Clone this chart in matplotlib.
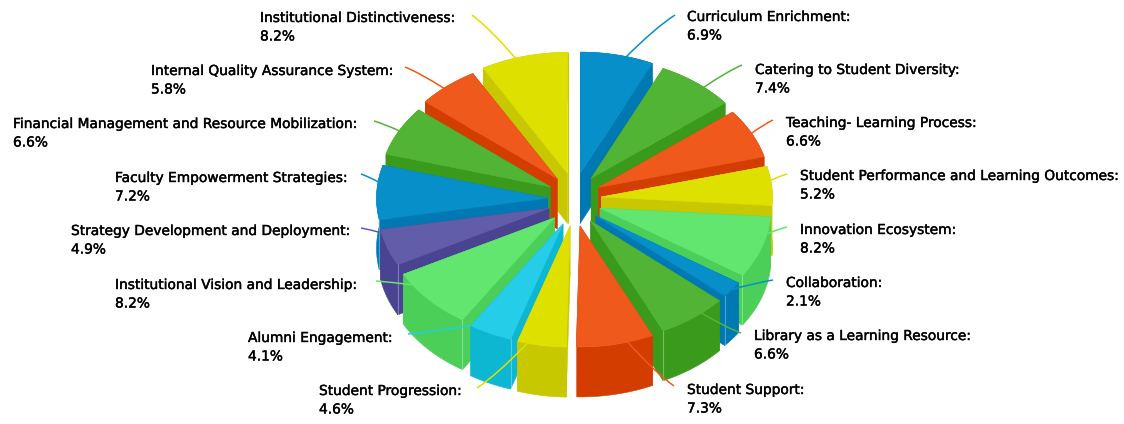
import numpy as np
import matplotlib
matplotlib.use('Agg')
import matplotlib.pyplot as plt
import matplotlib.patheffects as pe
from matplotlib.path import Path
from matplotlib.patches import PathPatch

# exploded 3d pie, values in percent, clockwise from 12 o'clock
labels = ['Curriculum Enrichment', 'Catering to Student Diversity', 'Teaching- Learning Process',
          'Student Performance and Learning Outcomes', 'Innovation Ecosystem', 'Collaboration',
          'Library as a Learning Resource', 'Student Support', 'Student Progression',
          'Alumni Engagement', 'Institutional Vision and Leadership', 'Strategy Development and Deployment',
          'Faculty Empowerment Strategies', 'Financial Management and Resource Mobilization',
          'Internal Quality Assurance System', 'Institutional Distinctiveness']
values = [6.9, 7.4, 6.6, 5.2, 8.2, 2.1, 6.6, 7.3, 4.6, 4.1, 8.2, 4.9, 7.2, 6.6, 5.8, 8.2]

BLUE = ('#068fc9', '#0079b3')
GREEN = ('#52b435', '#3a9a1c')
ORANGE = ('#ef5a1c', '#d33d00')
YELLOW = ('#dee000', '#c7c800')
LIGHT = ('#62e66f', '#4bcf58')
PURPLE = ('#625da8', '#4a4391')
CYAN = ('#25cde8', '#0db6d1')
colors = [BLUE, GREEN, ORANGE, YELLOW, LIGHT, BLUE, GREEN, ORANGE,
          YELLOW, CYAN, LIGHT, PURPLE, BLUE, GREEN, ORANGE, YELLOW]

# layout, all in pixels of the 1124x424 picture
cx, cy = 574.5, 199.5
rx, ry = 171, 121
explode = 27
depth = 50
label_x = [687, 755, 786, 800, 800, 786, 754, 687, 319, 248, 115, 71, 115, 13, 151, 260]
label_y = [17, 70, 123, 176, 230, 283, 336, 390, 391, 338, 285, 231, 178, 124, 71, 18]
leader_end = [(675, 15), (742, 65), (773, 120), (787, 174), (787, 227), (773, 280), (741, 333), (674, 386),
              (477, 388), (408, 334), (376, 281), (361, 228), (361, 174), (374, 121), (405, 67), (472, 15)]
# the connectors do not leave the rim exactly at the mid angle
leader_shift = [3.2, 3, 0, -2.6, -6.7, 0, -3.5, -4.3, 4.9, 7.6, 9, 7.3, 5, 0, -1.5, -3]

fig = plt.figure(figsize=(11.24, 4.24), dpi=100)
ax = fig.add_axes([0, 0, 1, 1])
ax.set_xlim(0, 1124)
ax.set_ylim(424, 0)
ax.axis('off')

edges = np.cumsum([0] + values) / sum(values) * 2 * np.pi
mids = (edges[:-1] + edges[1:]) / 2


def apex(i):
    return cx + explode * np.sin(mids[i]), cy - explode * np.cos(mids[i])


def rim(i, angle):
    x0, y0 = apex(i)
    return x0 + rx * np.sin(angle), y0 - ry * np.cos(angle)


def draw_slice(i):
    top, side = colors[i]
    x0, y0 = apex(i)
    t = np.linspace(edges[i], edges[i + 1], 60)
    xs, ys = rim(i, t)
    kw = dict(linewidth=0.4, joinstyle='miter')
    # two cut faces, then the outer wall, then the lid
    for k in (0, -1):
        ax.fill([x0, xs[k], xs[k], x0], [y0, ys[k], ys[k] + depth, y0 + depth], color=side, **kw)
    ax.fill(np.r_[xs, xs[::-1]], np.r_[ys, ys[::-1] + depth], color=side, **kw)
    # light seam on the front corner
    k = -1 if i < 8 else 0
    if ys[k] > y0 + 20 and i != 8:
        ax.plot([xs[k], xs[k]], [ys[k], ys[k] + depth], color='white', alpha=0.3, linewidth=0.8)
    ax.fill(np.r_[x0, xs], np.r_[y0, ys], color=top, **kw)


# back to front on each side
for i in list(range(8)) + list(range(15, 7, -1)):
    draw_slice(i)

heavier = [pe.withStroke(linewidth=0.3, foreground='black')]
for i, name in enumerate(labels):
    sx, sy = rim(i, mids[i] + np.radians(leader_shift[i]))
    ex, ey = leader_end[i]
    ctrl = (ex + (sx - ex) * 0.4, ey + (sy - ey) * 0.3)
    path = Path([(sx, sy), ctrl, (ex, ey)], [Path.MOVETO, Path.CURVE3, Path.CURVE3])
    ax.add_patch(PathPatch(path, fill=False, edgecolor=colors[i][0], linewidth=1.1, zorder=5))
    ax.text(label_x[i], label_y[i], name + ':', fontsize=9.9, color='black', ha='left', va='center',
            zorder=6, path_effects=heavier)
    ax.text(label_x[i], label_y[i] + 18.5, '{}%'.format(values[i]), fontsize=9.9, color='black',
            ha='left', va='center', zorder=6, path_effects=heavier)

fig.savefig('out.png', dpi=100, facecolor='white')
